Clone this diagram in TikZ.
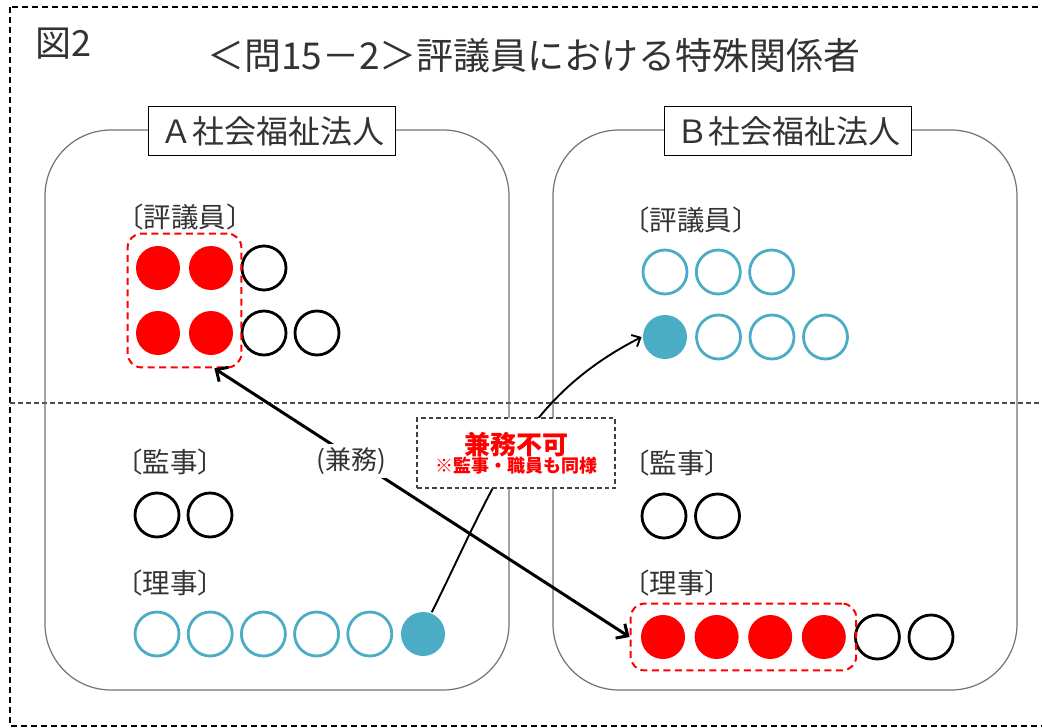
\documentclass[tikz,border=0pt]{standalone}
\usepackage{fontspec}
\newfontfamily\jp{Noto Sans CJK JP}
\usetikzlibrary{arrows.meta,fit}
\definecolor{tealA}{HTML}{4BACC6}
\definecolor{redA}{HTML}{FF0000}
\definecolor{txtA}{HTML}{333333}
\begin{document}
\begin{tikzpicture}[x=1pt,y=-1pt,font=\jp,
  mem/.style={circle,minimum size=44pt,inner sep=0pt,line width=2.8pt},
  blk/.style={mem,draw=black},
  redc/.style={mem,fill=redA},
  tealo/.style={mem,draw=tealA},
  tealf/.style={mem,fill=tealA},
  panel/.style={draw=black!55,line width=1.2pt,rounded corners=66pt},
  orgbox/.style={draw=black,fill=white,line width=1.2pt,minimum width=247pt,minimum height=49pt,inner sep=0pt,text=txtA,font=\jp\fontsize{32}{32}\selectfont},
  role/.style={anchor=west,inner sep=0pt,text=txtA,font=\jp\fontsize{27.5}{27.5}\selectfont},
  grp/.style={draw=redA,line width=2pt,rounded corners=14pt,dash pattern=on 7pt off 4.5pt},
  frame/.style={draw=black,line width=2.8pt,dash pattern=on 6pt off 4pt},
  mid/.style={draw=black!70,line width=1.2pt,dash pattern=on 5pt off 3pt},
  bigarrow/.style={draw=black,line width=3pt,{Straight Barb[length=9pt,width=17pt]}-{Straight Barb[length=9pt,width=17pt]}},
  thinarrow/.style={draw=black,line width=1.9pt,-{Straight Barb[length=7pt,width=13pt]}}
]
\useasboundingbox (0,0) rectangle (1042,728);
\fill[white] (0,0) rectangle (1042,728);
% outer dashed frame
\draw[frame] (10,7) rectangle (1060,726);
% middle dashed line
\draw[mid] (10,403) -- (1042,403);
% panels
\draw[panel] (45,130) rectangle (509,690);
\draw[panel] (553,130) rectangle (1017,690);
\node[orgbox] (orgA) at (272,131) {Ａ社会福祉法人};
\node[orgbox] (orgB) at (788,131) {Ｂ社会福祉法人};
% title
\node[anchor=west,inner sep=0pt,text=txtA,font=\jp\fontsize{36}{36}\selectfont] (fig) at (35,44) {図2};
\node[inner sep=0pt,text=txtA,font=\jp\fontsize{37}{37}\selectfont] (title) at (534,56) {＜問15－2＞評議員における特殊関係者};
% role labels
\node[role] (lAh) at (116,217) {〔評議員〕};
\node[role] (lAk) at (115,462) {〔監事〕};
\node[role] (lAr) at (115,583) {〔理事〕};
\node[role] (lBh) at (622,220) {〔評議員〕};
\node[role] (lBk) at (622,463) {〔監事〕};
\node[role] (lBr) at (622,583) {〔理事〕};
% A: councillors
\foreach \i/\s in {1/redc,2/redc,3/blk}
  \node[\s] (ah1\i) at ({158+53*(\i-1)},268) {};
\foreach \i/\s in {1/redc,2/redc,3/blk,4/blk}
  \node[\s] (ah2\i) at ({158+53*(\i-1)},333) {};
% A: auditors
\foreach \i in {1,2}
  \node[blk] (ak\i) at ({157+53*(\i-1)},515) {};
% A: directors
\foreach \i/\s in {1/tealo,2/tealo,3/tealo,4/tealo,5/tealo,6/tealf}
  \node[\s] (ar\i) at ({157+53.2*(\i-1)},634) {};
% B: councillors
\foreach \i in {1,2,3}
  \node[tealo] (bh1\i) at ({665+53.3*(\i-1)},272) {};
\foreach \i/\s in {1/tealf,2/tealo,3/tealo,4/tealo}
  \node[\s] (bh2\i) at ({665+53.5*(\i-1)},337) {};
% B: auditors
\foreach \i in {1,2}
  \node[blk] (bk\i) at ({664+53.5*(\i-1)},516) {};
% B: directors
\foreach \i/\s in {1/redc,2/redc,3/redc,4/redc,5/blk,6/blk}
  \node[\s] (br\i) at ({663+53.6*(\i-1)},637) {};
% red dashed groups
\node[grp,fit=(ah11)(ah22),inner xsep=7pt,inner ysep=11pt] (gA) {};
\node[grp,fit=(br1)(br4),inner xsep=9pt,inner ysep=10pt] (gB) {};
% connectors
\coordinate (gAtip) at ([xshift=-28pt]gA.south east);
\draw[bigarrow] (gAtip) -- (gB.west);
\draw[thinarrow] (ar6.68) .. controls (495,485) and (522,398) .. (bh21.west);
% overlay labels
\node[fill=white,inner sep=3pt,text=txtA,font=\jp\fontsize{26}{26}\selectfont] (kenmu) at (351,461) {(兼務)};
\node[draw=black!75,fill=white,line width=1.4pt,dash pattern=on 4.5pt off 3pt,minimum width=198pt,minimum height=70pt,inner sep=0pt,align=center] (ng) at (516,453)
  {{\fontsize{26}{30}\selectfont\bfseries\color{redA}兼務不可}\\[-1pt]{\fontsize{18}{21}\selectfont\bfseries\color{redA}※監事・職員も同様}};
\end{tikzpicture}
\end{document}
